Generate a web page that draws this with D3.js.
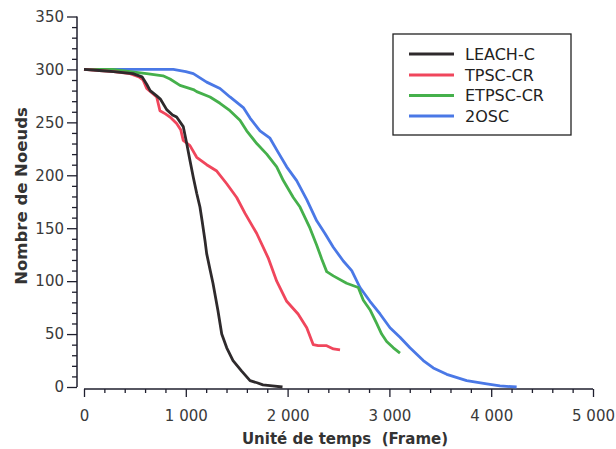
<!DOCTYPE html>
<html>
<head>
<meta charset="utf-8">
<script src="https://cdn.jsdelivr.net/npm/d3@7"></script>
<style>
  html, body { margin: 0; padding: 0; background: #fff; }
  svg { display: block; }
</style>
</head>
<body>
<svg id="chart" width="616" height="449"></svg>
<script>
// ---- data ----
const seriesNames = ["LEACH-C", "TPSC-CR", "ETPSC-CR", "2OSC"];
const seriesColors = ["#2e2a2c", "#f0465c", "#45b04b", "#4a78e6"];

const leachX = [0, 150, 290, 480, 570, 616, 650, 714, 750, 812, 870, 910, 975, 1009, 1041, 1074, 1107, 1139, 1160, 1189, 1205, 1240, 1267, 1316, 1353, 1402, 1464, 1549, 1631, 1700, 1758, 1850, 1950];
const leachY = [300, 299, 298, 296, 293, 286, 280, 275, 272, 262, 257, 255, 246, 230, 214, 198, 183, 170, 157, 138, 126, 110, 98, 72, 50, 37, 25, 15, 6, 4, 2, 1, 0];

const tpscX = [0, 150, 290, 452, 540, 580, 616, 714, 746, 800, 845, 910, 950, 975, 1041, 1107, 1205, 1304, 1402, 1500, 1582, 1697, 1809, 1893, 1991, 2103, 2188, 2252, 2300, 2384, 2450, 2515];
const tpscY = [300, 299, 298, 296, 293, 290, 282, 274, 261, 258, 255, 249, 243, 233, 228, 217, 210, 204, 192, 179, 164, 145, 122, 100, 81, 69, 56, 40, 39, 39, 36, 35];

const etpscX = [0, 285, 452, 616, 776, 845, 943, 1074, 1107, 1238, 1336, 1434, 1532, 1598, 1697, 1795, 1893, 1958, 2056, 2122, 2171, 2220, 2286, 2335, 2384, 2449, 2580, 2694, 2744, 2809, 2875, 2924, 2973, 3039, 3104];
const etpscY = [300, 300, 298, 296, 294, 291, 285, 281, 279, 274, 268, 261, 252, 242, 230, 220, 208, 195, 179, 170, 160, 150, 134, 121, 109, 105, 98, 94, 82, 73, 60, 50, 43, 37, 32];

const oscX = [0, 452, 877, 1000, 1074, 1205, 1336, 1434, 1565, 1631, 1729, 1827, 1893, 1991, 2089, 2188, 2286, 2367, 2449, 2547, 2630, 2711, 2809, 2908, 3006, 3104, 3202, 3333, 3431, 3563, 3759, 3956, 4086, 4250];
const oscY = [300, 300, 300, 298, 296, 288, 282, 274, 264, 254, 242, 235, 224, 208, 195, 177, 157, 145, 132, 119, 110, 94, 81, 69, 56, 47, 37, 25, 18, 12, 6, 3, 1, 0];

const xTicks = [0, 1000, 2000, 3000, 4000, 5000];
const xTickLabels = ["0", "1 000", "2 000", "3 000", "4 000", "5 000"];
const yTicks = [0, 50, 100, 150, 200, 250, 300, 350];
const xTitle = "Unité de temps\u00A0\u00A0(Frame)";
const yTitle = "Nombre de Noeuds";

// ---- layout ----
const svg = d3.select("#chart");
const x = d3.scaleLinear().domain([0, 5000]).range([84, 593]);
const y = d3.scaleLinear().domain([0, 350]).range([387, 16.5]);
const yAxisX = 77;
const xAxisY = 389;
const axisColor = "#1f1f2e";
const labelColor = "#3a3a3a";
const font = "'DejaVu Sans', sans-serif";

// y axis
const yAxis = d3.axisLeft(y).tickValues(yTicks).tickSize(10).tickPadding(3);
const gy = svg.append("g").attr("transform", `translate(${yAxisX},0)`).call(yAxis);
gy.select(".domain").attr("d", `M0,${y(0)}V${y(350)}`);
gy.selectAll(".tick line").attr("stroke", axisColor).attr("stroke-width", 1.3);
gy.selectAll(".tick text").attr("font-family", font).attr("font-size", 15).attr("fill", labelColor);
gy.select(".domain").attr("stroke", axisColor).attr("stroke-width", 1.5);
const yMinor = d3.axisLeft(y).tickValues(d3.range(0, 351, 10).filter(v => v % 50 !== 0)).tickSize(5).tickFormat("");
const gym = svg.append("g").attr("transform", `translate(${yAxisX},0)`).call(yMinor);
gym.select(".domain").remove();
gym.selectAll(".tick line").attr("stroke", axisColor).attr("stroke-width", 1.3);

// x axis
const xAxis = d3.axisBottom(x).tickValues(xTicks).tickFormat((d, i) => xTickLabels[i]).tickSize(8).tickPadding(13);
const gx = svg.append("g").attr("transform", `translate(0,${xAxisY})`).call(xAxis);
gx.select(".domain").attr("d", `M${x(0)},0H${x(5000)}`).attr("stroke", axisColor).attr("stroke-width", 1.5);
gx.selectAll(".tick line").attr("stroke", axisColor).attr("stroke-width", 1.3);
gx.selectAll(".tick text").attr("font-family", font).attr("font-size", 15).attr("fill", labelColor);
const xMinor = d3.axisBottom(x).tickValues(d3.range(0, 5001, 200).filter(v => v % 1000 !== 0)).tickSize(4).tickFormat("");
const gxm = svg.append("g").attr("transform", `translate(0,${xAxisY})`).call(xMinor);
gxm.select(".domain").remove();
gxm.selectAll(".tick line").attr("stroke", axisColor).attr("stroke-width", 1.3);

// titles
svg.append("text")
  .attr("x", 345).attr("y", 444)
  .attr("text-anchor", "middle")
  .attr("font-family", font).attr("font-weight", "bold").attr("font-size", 15)
  .attr("fill", "#333")
  .text(xTitle);
svg.append("text")
  .attr("transform", "translate(27,196) rotate(-90)")
  .attr("text-anchor", "middle")
  .attr("font-family", font).attr("font-weight", "bold").attr("font-size", 16.5)
  .attr("fill", "#333")
  .text(yTitle);

// lines
const series = [
  { xs: leachX, ys: leachY },
  { xs: tpscX, ys: tpscY },
  { xs: etpscX, ys: etpscY },
  { xs: oscX, ys: oscY }
];
const line = d3.line().x(d => x(d[0])).y(d => y(d[1]));
const drawOrder = [3, 2, 1, 0];
drawOrder.forEach(i => {
  const s = series[i];
  const pts = s.xs.map((v, k) => [v, s.ys[k]]);
  svg.append("path")
    .datum(pts)
    .attr("d", line)
    .attr("fill", "none")
    .attr("stroke", seriesColors[i])
    .attr("stroke-width", 2.8)
    .attr("stroke-linejoin", "round");
});

// legend
const lg = svg.append("g");
lg.append("rect")
  .attr("x", 393).attr("y", 34).attr("width", 178).attr("height", 101)
  .attr("fill", "#fff").attr("stroke", "#222").attr("stroke-width", 1.3);
const rowY = [54, 75, 95.5, 116];
seriesNames.forEach((name, i) => {
  lg.append("line")
    .attr("x1", 409).attr("x2", 454)
    .attr("y1", rowY[i]).attr("y2", rowY[i])
    .attr("stroke", seriesColors[i]).attr("stroke-width", 3);
  lg.append("text")
    .attr("x", 465).attr("y", rowY[i])
    .attr("dy", "0.36em")
    .attr("font-family", font).attr("font-size", 16)
    .attr("fill", "#222")
    .text(name);
});
</script>
</body>
</html>
